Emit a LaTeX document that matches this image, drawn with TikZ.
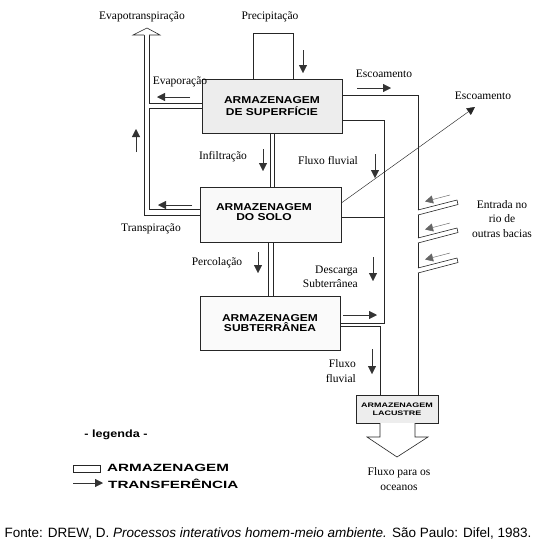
\documentclass[tikz,border=0pt]{standalone}
\usepackage{fontspec}
\setmainfont{Liberation Serif}
\newfontfamily\sansf{Liberation Sans}
\usetikzlibrary{arrows.meta}
\newcommand{\bx}[2][1.2]{\scalebox{#1}[1]{#2}}
\begin{document}
\begin{tikzpicture}[x=1pt,y=-1pt,
  wall/.style={draw=black!85, line width=0.6pt},
  store/.style={draw=black!85, line width=0.6pt, fill=#1, inner sep=0pt, align=center},
  store/.default=gray!12,
  flow/.style={draw=black!80, line width=0.45pt, -{Triangle[length=8pt,width=8pt]}},
  lbl/.style={font=\fontsize{11.5}{14.5}\selectfont, inner sep=0pt, align=center},
  boxtxt/.style={font=\sansf\bfseries\fontsize{10}{12}\selectfont},
  legtxt/.style={font=\sansf\bfseries\fontsize{10.5}{12}\selectfont, inner sep=0pt}
]
\fill[white] (0,0) rectangle (537,547);
\useasboundingbox (0,0) rectangle (537,547);

% ---- left evapotranspiration channel ----
\draw[wall] (144,35) -- (144,215) -- (200,215);
\draw[wall] (149,35) -- (149,103) -- (202,103);
\draw[wall] (202,108) -- (149,108) -- (149,209) -- (200,209);
\draw[wall, fill=white] (144,35) -- (133,35) -- (147,28) -- (160,35) -- (149,35);

% ---- precipitation inlet ----
\draw[wall] (253,79) -- (253,33) -- (293,33) -- (293,79);

% ---- vertical links ----
\draw[wall] (270,133) -- (270,187) (274,133) -- (274,187);
\draw[wall] (268,242) -- (268,296) (273,242) -- (273,296);

% ---- river channel ----
\draw[wall] (342,95) -- (418,95) -- (418,210);
\draw[wall] (418,215) -- (418,238);
\draw[wall] (418,243) -- (418,268);
\draw[wall] (418,273) -- (418,395);
\draw[wall] (342,120) -- (384,120) -- (384,323) -- (340,323);
\draw[wall] (341,217) -- (384,217);
\draw[wall] (340,326) -- (380,326) -- (380,395);

% tributaries
\foreach \yy in {215,243,273}{
  \draw[wall] (418,\yy) -- (458,\yy-10.5);
  \draw[wall] (418,\yy-5) -- (457,\yy-15);
  \draw[wall] (457,\yy-15) -- (458,\yy-10.5);
  \draw[flow, draw=black!60] (450,\yy-20) -- (425,\yy-13.5);
}

% ---- stores ----
\node[store=gray!14, minimum width=140pt, minimum height=54pt, boxtxt] (sup) at (272,106)
  {\bx{ARMAZENAGEM}\\\bx{DE SUPERFÍCIE}};
\node[store=gray!5, minimum width=141pt, minimum height=55pt] (solo) at (270.5,214.5) {};
\node[font=\sansf\bfseries\fontsize{10}{10.5}\selectfont, align=center] (solotxt) at (264,212)
  {\bx{ARMAZENAGEM}\\\bx{DO SOLO}};
\node[store=gray!4, minimum width=140pt, minimum height=54pt,
  font=\sansf\bfseries\fontsize{10}{10}\selectfont] (sub) at (270,323)
  {\bx{ARMAZENAGEM}\\\bx{SUBTERRÂNEA}};
\node[store=gray!14, minimum width=82pt, minimum height=28pt,
  font=\sansf\bfseries\fontsize{6.5}{8}\selectfont] (lac) at (397,409)
  {\bx[1.38]{ARMAZENAGEM}\\\bx[1.38]{LACUSTRE}};

% ocean outflow
\draw[wall, fill=white] (380,423) -- (380,437) -- (367,437) -- (397,457) -- (428,437) -- (415,437) -- (415,423);

% ---- flow arrows ----
\draw[flow] (303,50) -- (303,73);
\draw[flow] (190,97) -- (157,97);
\draw[flow] (136,152) -- (136,129);
\draw[flow] (192,205) -- (158,205);
\draw[flow] (263,149) -- (263,171);
\draw[flow] (258,252) -- (258,273);
\draw[flow] (357,88) -- (391,88);
\draw[flow] (375,154) -- (375,178);
\draw[flow, draw=black!85] (solo.east |- 0,203) -- (475,107);
\draw[flow] (373,257) -- (373,281);
\draw[flow] (343,315) -- (377,315);
\draw[flow] (372,349) -- (372,374);

% ---- labels ----
\node[lbl] (l1) at (142,17) {Evapotranspiração};
\node[lbl] (l2) at (270,17) {Precipitação};
\node[lbl] (l3) at (180,82) {Evaporação};
\node[lbl] (l4) at (384,74) {Escoamento};
\node[lbl] (l5) at (483,96) {Escoamento};
\node[lbl] (l6) at (223,157) {Infiltração};
\node[lbl] (l7) at (328,161) {Fluxo fluvial};
\node[lbl] (l8) at (151,229) {Transpiração};
\node[lbl] (l9) at (217,263) {Percolação};
\node[lbl, align=right, anchor=east] (l10) at (358,277) {Descarga\\Subterrânea};
\node[lbl, align=right, anchor=east] (l11) at (356,371) {Fluxo\\fluvial};
\node[lbl] (l12) at (502,219) {Entrada no\\rio de\\outras bacias};
\node[lbl] (l13) at (399,479) {Fluxo para os\\oceanos};

% ---- legend ----
\node[legtxt] (leg) at (116,435) {\bx[1.2]{- legenda -}};
\draw[wall, fill=white] (73,465) rectangle (100,472);
\node[legtxt, anchor=west] (legA) at (107,468) {\bx[1.45]{ARMAZENAGEM}};
\coordinate (legS) at (73,483);
\coordinate (legE) at (103,483);
\draw[flow] (legS) -- (legE);
\node[legtxt, anchor=west] (legT) at (108,484) {\bx[1.45]{TRANSFERÊNCIA}};

% ---- source ----
\node[font=\sansf\fontsize{13.5}{16}\selectfont, inner sep=0pt] (fonte) at (268,533)
  {Fonte: DREW, D. \textit{Processos interativos homem-meio ambiente.} São Paulo: Difel, 1983.};
\end{tikzpicture}
\end{document}
